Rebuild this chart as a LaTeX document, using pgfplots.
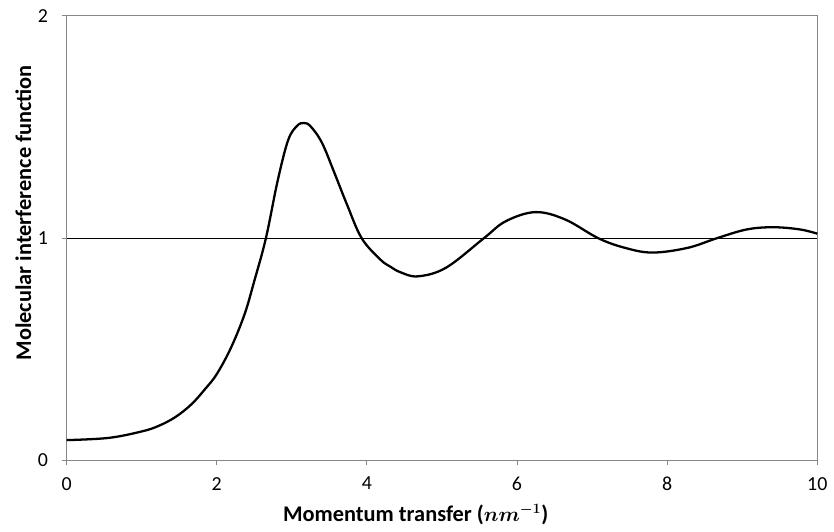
\documentclass[border=0pt]{standalone}
\usepackage{fontspec}
\setmainfont{Carlito}
\usepackage{pgfplots}
\pgfplotsset{compat=1.18}
\begin{document}
\fontsize{20}{24}\selectfont
\begin{tikzpicture}
\begin{axis}[
  scale only axis,
  width=755pt, height=447pt,
  xmin=0, xmax=10, ymin=0, ymax=2,
  xtick={0,2,4,6,8,10}, ytick={0,1,2},
  tick pos=left, tick align=outside,
  major tick length=5pt,
  axis line style={draw=black!47, line width=1pt},
  every tick/.style={black!47, line width=1pt},
  /pgf/number format/assume math mode=true,
  ticklabel style={font=\fontsize{20}{24}\selectfont},
  xticklabel style={yshift=-5pt},
  yticklabel style={xshift=-7pt},
  xlabel={\textbf{Momentum transfer (}{\boldmath$nm^{-1}$}\textbf{)}},
  ylabel={\textbf{Molecular interference function}},
  label style={font=\fontsize{22.5}{27}\selectfont},
  xlabel style={at={(axis description cs:0.465,-0.122)}, anchor=center},
  ylabel style={at={(axis description cs:-0.0576,0.557)}, anchor=center},
  clip=false,
]
\addplot[black, line width=0.9pt] coordinates {(0,1) (10,1)};
\addplot[black, line width=2.3pt, smooth, tension=0.6] coordinates {
(0,0.091)
(0.56,0.101)
(1.0,0.130)
(1.225,0.155)
(1.45,0.195)
(1.665,0.253)
(1.85,0.323)
(2.0,0.388)
(2.19,0.507)
(2.37,0.657)
(2.5,0.807)
(2.655,1.0)
(2.81,1.256)
(2.95,1.44)
(3.07,1.505)
(3.16,1.518)
(3.25,1.503)
(3.40,1.430)
(3.56,1.30)
(3.735,1.151)
(3.93,1.0)
(4.175,0.905)
(4.31,0.872)
(4.45,0.846)
(4.68,0.828)
(5.055,0.867)
(5.56,1.0)
(5.85,1.076)
(6.245,1.117)
(6.64,1.084)
(7.08,1.0)
(7.43,0.957)
(7.8,0.935)
(8.27,0.956)
(8.666,1.0)
(9.06,1.039)
(9.415,1.049)
(9.77,1.039)
(10,1.02)
};
\path (rel axis cs:0,0) ++(-67pt,-68pt) (rel axis cs:1,1) ++(12pt,16pt);
\end{axis}
\end{tikzpicture}
\end{document}
